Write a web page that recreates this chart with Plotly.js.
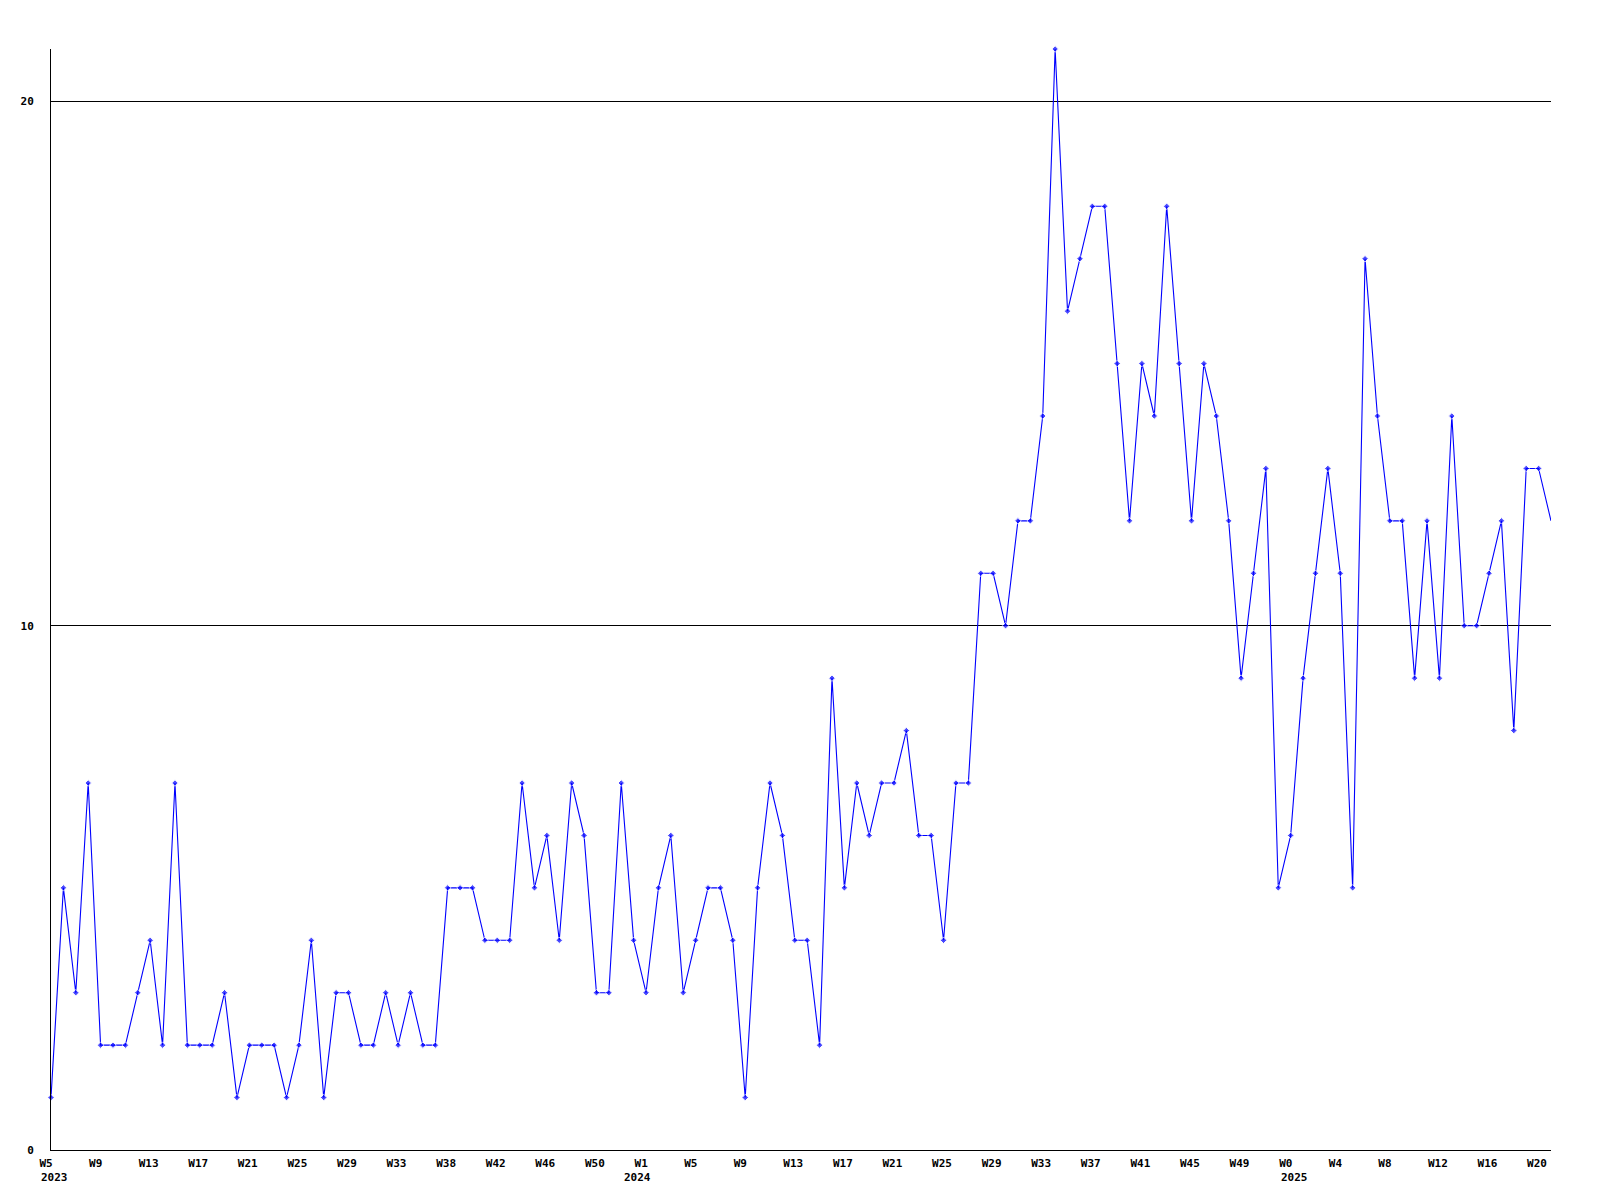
<!DOCTYPE html>
<html>
<head>
<meta charset="utf-8">
<script src="https://cdn.plot.ly/plotly-3.0.1.min.js"></script>
<style>html,body{margin:0;padding:0;background:#fff;}#chart{width:1600px;height:1200px;}</style>
</head>
<body>
<div id="chart"></div>
<script>
// Weekly values, one per week starting 2023 W5
const values = [
  1,5,3,7,2,2,2,3,4,2,
  7,2,2,2,3,1,2,2,2,1,
  2,4,1,3,3,2,2,3,2,3,
  2,2,5,5,5,4,4,4,7,5,
  6,4,7,6,3,3,7,4,3,5,
  6,3,4,5,5,4,1,5,7,6,
  4,4,2,9,5,7,6,7,7,8,
  6,6,4,7,7,11,11,10,12,12,
  14,21,16,17,18,18,15,12,15,14,
  18,15,12,15,14,12,9,11,13,5,
  6,9,11,13,11,5,17,14,12,12,
  9,12,9,14,10,10,11,12,8,13,
  13,12
];
// Tick labels shown every 4th week
const tickLabels = ["W5","W9","W13","W17","W21","W25","W29","W33","W38","W42","W46","W50",
  "W1","W5","W9","W13","W17","W21","W25","W29","W33","W37","W41","W45","W49",
  "W0","W4","W8","W12","W16","W20"];
const tickStep = 4;
// Year labels and the week index where each appears
const yearLabels = ["2023","2024","2025"];
const yearIndex = [0, 47, 100];
const yTicks = [0, 10, 20];

const xs = values.map((v, i) => i);
const tickvals = tickLabels.map((t, i) => i * tickStep);
const markerSizes = values.map((v, i) => i === values.length - 1 ? 0 : 5);

const font = {family: "DejaVu Sans Mono, Liberation Mono, monospace", size: 11, color: "#000", weight: "bold"};

const trace = {
  x: xs, y: values, type: "scatter", mode: "lines+markers",
  cliponaxis: false,
  line: {color: "#0000ff", width: 1.1},
  marker: {color: "#0000ff", size: markerSizes, symbol: "diamond"},
  hoverinfo: "y"
};

const annotations = yearLabels.map((t, k) => ({
  text: t, x: yearIndex[k], xref: "x", y: 0, yref: "paper",
  xanchor: "left", yanchor: "top", xshift: -12, yshift: -19,
  showarrow: false, font: font
}));

const layout = {
  width: 1600, height: 1200,
  margin: {l: 51, r: 49, t: 49, b: 50},
  paper_bgcolor: "#fff", plot_bgcolor: "#fff",
  showlegend: false,
  font: font,
  xaxis: {
    range: [0, values.length - 1],
    tickvals: tickvals, ticktext: tickLabels,
    ticklabelposition: "outside right",
    ticklabelshift: -12,
    ticklabelstandoff: 3,
    ticks: "", showgrid: false, zeroline: false,
    showline: true, linecolor: "#000", linewidth: 1,
    tickfont: font, fixedrange: true
  },
  yaxis: {
    range: [0, 21],
    tickvals: yTicks, ticktext: yTicks.map(String),
    ticks: "", ticklabelstandoff: 14,
    showgrid: true, gridcolor: "#000", gridwidth: 1,
    zeroline: false,
    showline: true, linecolor: "#000", linewidth: 1,
    tickfont: font, fixedrange: true
  },
  annotations: annotations
};

Plotly.newPlot("chart", [trace], layout, {displayModeBar: false, staticPlot: true});
</script>
</body>
</html>
